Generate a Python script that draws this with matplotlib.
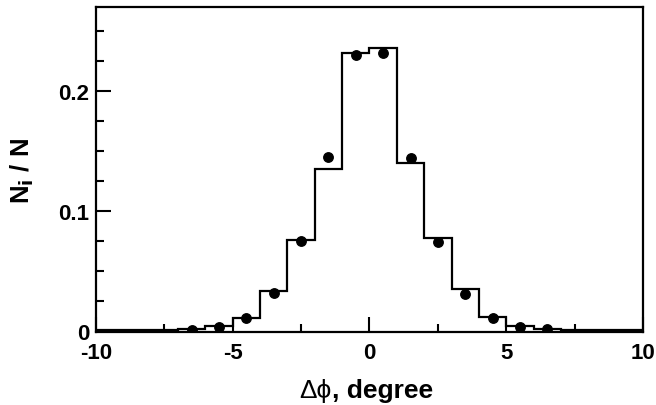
import numpy as np
import matplotlib.pyplot as plt

plt.rcParams['font.family'] = ['Liberation Sans', 'DejaVu Sans']
plt.rcParams['axes.unicode_minus'] = False

# histogram bins (width 1 degree) and their heights
bin_edges = np.arange(-10, 11, 1)
hist_vals = [0.0008, 0.0009, 0.0012, 0.002, 0.004, 0.0109, 0.0338, 0.0760, 0.1353, 0.2316,
             0.2353, 0.1397, 0.0777, 0.0352, 0.0117, 0.004, 0.002, 0.0012, 0.001, 0.0008]

# measured points
pt_x = [-6.5, -5.5, -4.5, -3.5, -2.5, -1.5, -0.5, 0.5, 1.5, 2.5, 3.5, 4.5, 5.5, 6.5]
pt_y = [0.0012, 0.0035, 0.0114, 0.0319, 0.0752, 0.145, 0.2297,
        0.2311, 0.1442, 0.0743, 0.0313, 0.0109, 0.0037, 0.0018]

fig = plt.figure(figsize=(6.56, 4.06), dpi=100)
ax = fig.add_axes([0.1463, 0.1786, 0.8339, 0.8029])

ax.stairs(hist_vals, bin_edges, color='black', linewidth=1.6)
ax.plot(pt_x, pt_y, 'o', color='black', markersize=6.8)

ax.set_xlim(-10, 10)
ax.set_ylim(-0.001, 0.27)
ax.set_xticks([-10, -5, 0, 5, 10])
ax.set_xticks([-7.5, -2.5, 2.5, 7.5], minor=True)
ax.set_yticks([0, 0.1, 0.2])
ax.set_yticklabels(['0', '0.1', '0.2'])
ax.set_yticks(np.arange(0.025, 0.27, 0.025), minor=True)

ax.tick_params(which='both', direction='in', top=False, right=False, width=1.5,
               labelsize=16)
ax.tick_params(which='major', length=11)
ax.tick_params(axis='x', which='major', pad=7)
ax.tick_params(axis='y', which='major', pad=5)
ax.tick_params(which='minor', length=6)
for lbl in ax.get_xticklabels() + ax.get_yticklabels():
    lbl.set_fontweight('bold')
for s in ax.spines.values():
    s.set_linewidth(1.6)

# x label: regular greek part + bold text part
fig.text(0.506, 0.019, '\u0394\u03d5', fontsize=19, ha='right', va='baseline')
fig.text(0.506, 0.019, ', degree', fontsize=19, fontweight='bold', ha='left', va='baseline')

fig.text(0.034, 0.578, r'N$_\mathbf{i}$ / N', fontsize=18.5, fontweight='bold',
         rotation=90, ha='center', va='center')

fig.savefig('out.png', dpi=100)
